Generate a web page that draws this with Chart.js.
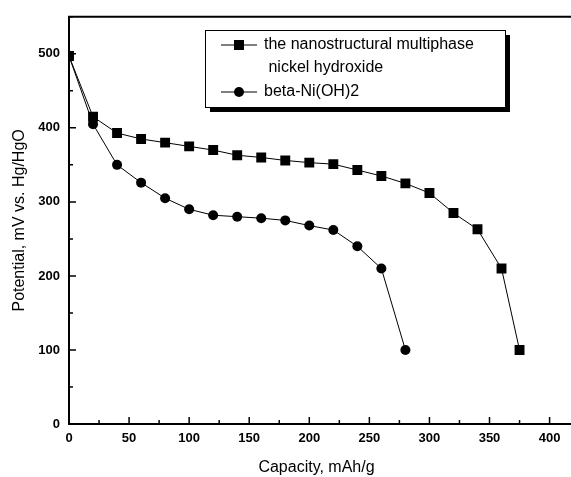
<!DOCTYPE html>
<html>
<head>
<meta charset="utf-8">
<script src="https://cdn.jsdelivr.net/npm/chart.js@4.4.0/dist/chart.umd.min.js"></script>
<style>
  html, body { margin: 0; padding: 0; background: #fff; }
  #wrap { width: 571px; height: 477px; }
</style>
</head>
<body>
<div id="wrap"><canvas id="myChart"></canvas></div>
<script>
// capacity (mAh/g) and potential (mV)
var capNano = [0, 20, 40, 60, 80, 100, 120, 140, 160, 180, 200, 220, 240, 260, 280, 300, 320, 340, 360, 375];
var potNano = [497, 415, 393, 385, 380, 375, 370, 363, 360, 356, 353, 351, 343, 335, 325, 312, 285, 263, 210, 100];
var capBeta = [0, 20, 40, 60, 80, 100, 120, 140, 160, 180, 200, 220, 240, 260, 280];
var potBeta = [497, 405, 350, 326, 305, 290, 282, 280, 278, 275, 268, 262, 240, 210, 100];
var legendLabels = [['the nanostructural multiphase', ' nickel hydroxide'], ['beta-Ni(OH)2']];

function toPoints(xs, ys) {
  return xs.map(function (x, i) { return { x: x, y: ys[i] }; });
}

var FONT = '"Liberation Sans", Arial, sans-serif';

// inward ticks + top border
var frame = {
  id: 'frame',
  afterDraw: function (chart) {
    var ctx = chart.ctx, a = chart.chartArea;
    var sx = chart.scales.x, sy = chart.scales.y;
    ctx.save();
    ctx.strokeStyle = '#000';
    ctx.lineWidth = 2;
    ctx.beginPath();
    ctx.moveTo(a.left - 1, a.top);
    ctx.lineTo(chart.width, a.top);
    ctx.moveTo(a.right, a.bottom);
    ctx.lineTo(chart.width, a.bottom);
    ctx.stroke();
    ctx.lineWidth = 1.5;
    ctx.beginPath();
    for (var v = 0; v <= 400; v += 25) {
      var px = sx.getPixelForValue(v);
      var len = (v % 50 === 0) ? 7 : 4;
      ctx.moveTo(px, a.bottom);
      ctx.lineTo(px, a.bottom - len);
    }
    for (var w = 0; w <= 550; w += 50) {
      var py = sy.getPixelForValue(w);
      var l2 = (w % 100 === 0) ? 7 : 4;
      ctx.moveTo(a.left, py);
      ctx.lineTo(a.left + l2, py);
    }
    ctx.stroke();
    ctx.restore();
  }
};

// boxed legend with drop shadow
var boxLegend = {
  id: 'boxLegend',
  afterDraw: function (chart) {
    var ctx = chart.ctx;
    var bx = 205, by = 30, bw = 300, bh = 77;
    ctx.save();
    ctx.fillStyle = '#000';
    ctx.fillRect(bx + 5, by + 5, bw, bh);
    ctx.fillStyle = '#fff';
    ctx.fillRect(bx, by, bw, bh);
    ctx.strokeStyle = '#000';
    ctx.lineWidth = 1;
    ctx.strokeRect(bx + 0.5, by + 0.5, bw, bh);
    ctx.font = '16px ' + FONT;
    ctx.textBaseline = 'middle';
    var rowsY = [[45, 68], [92]];
    chart.data.datasets.forEach(function (ds, i) {
      var y0 = rowsY[i][0];
      ctx.strokeStyle = '#000';
      ctx.lineWidth = 1;
      ctx.beginPath();
      ctx.moveTo(221, y0);
      ctx.lineTo(257, y0);
      ctx.stroke();
      ctx.fillStyle = '#000';
      if (ds.pointStyle === 'rect') {
        ctx.fillRect(234, y0 - 5, 10, 10);
      } else {
        ctx.beginPath();
        ctx.arc(239, y0, 5, 0, Math.PI * 2);
        ctx.fill();
      }
      legendLabels[i].forEach(function (t, k) {
        ctx.fillText(t, 264, rowsY[i][k]);
      });
    });
    ctx.restore();
  }
};

var ctx = document.getElementById('myChart').getContext('2d');
var myChart = new Chart(ctx, {
  type: 'scatter',
  data: {
    datasets: [{
      label: legendLabels[0].join(' '),
      data: toPoints(capNano, potNano),
      showLine: true,
      borderColor: '#000',
      backgroundColor: '#000',
      borderWidth: 1,
      pointStyle: 'rect',
      pointRadius: 7,
      pointBorderWidth: 0
    }, {
      label: legendLabels[1].join(' '),
      data: toPoints(capBeta, potBeta),
      showLine: true,
      borderColor: '#000',
      backgroundColor: '#000',
      borderWidth: 1,
      pointStyle: 'circle',
      pointRadius: 5,
      pointBorderWidth: 0
    }]
  },
  options: {
    responsive: true,
    maintainAspectRatio: false,
    animation: false,
    layout: { padding: { top: 13, right: 0, left: 0, bottom: 0 } },
    plugins: {
      legend: { display: false },
      tooltip: { enabled: false }
    },
    scales: {
      x: {
        type: 'linear',
        min: 0,
        max: 412,
        afterFit: function (s) { s.height = 53; },
        grid: { display: false, drawTicks: false },
        border: { display: true, color: '#000', width: 2 },
        ticks: { stepSize: 50, includeBounds: false, color: '#000', padding: 7,
                 font: { family: FONT, size: 13, weight: 'bold' } },
        title: { display: true, text: 'Capacity, mAh/g', color: '#000', padding: { top: 10, bottom: 0 },
                 font: { family: FONT, size: 16 } }
      },
      y: {
        type: 'linear',
        min: 0,
        max: 550,
        afterFit: function (s) { s.width = 69; },
        grid: { display: false, drawTicks: false },
        border: { display: true, color: '#000', width: 2 },
        ticks: { stepSize: 100, includeBounds: false, color: '#000', padding: 9,
                 font: { family: FONT, size: 13, weight: 'bold' } },
        title: { display: true, text: 'Potential, mV vs. Hg/HgO', color: '#000', padding: { top: 10, bottom: 4 },
                 font: { family: FONT, size: 16 } }
      }
    }
  },
  plugins: [frame, boxLegend]
});
</script>
</body>
</html>
